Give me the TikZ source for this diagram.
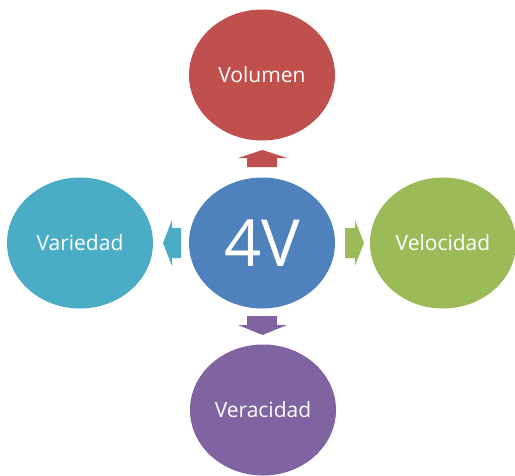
\documentclass[tikz,border=0pt]{standalone}
\usepackage{fontspec}
\setmainfont{Open Sans}
\definecolor{cred}{HTML}{C0504D}
\definecolor{cblue}{HTML}{4F81BD}
\definecolor{cgreen}{HTML}{9BBB59}
\definecolor{cpurple}{HTML}{8064A2}
\definecolor{cteal}{HTML}{4BACC6}
\tikzset{
  blob/.style={ellipse, minimum width=146pt, minimum height=131pt, inner sep=0pt, text=white, font=\fontsize{21}{24}\selectfont}
}
\usetikzlibrary{shapes.geometric}
\begin{document}
\begin{tikzpicture}[x=1pt,y=-1pt]
\useasboundingbox (0,0) rectangle (515,475);
\node[blob, fill=cblue, font=\fontsize{65}{70}\selectfont] (c) at (262,243) {4V};
\node[blob, fill=cred] (t) at (262,75) {Volumen};
\node[blob, fill=cteal] (l) at (80,243) {Variedad};
\node[blob, fill=cgreen] (r) at (443,243) {Velocidad};
\node[blob, fill=cpurple] (b) at (263,410) {Veracidad};
% up arrow
\fill[cred] (262.5,150) -- (287,158) -- (277,158) -- (277,167) -- (247,167) -- (247,158) -- (238,158) -- cycle;
% down arrow
\fill[cpurple] (262.5,335) -- (287,325) -- (277,325) -- (277,316) -- (247,316) -- (247,325) -- (238,325) -- cycle;
% left arrow
\fill[cteal] (163,243) -- (172,220) -- (172,228) -- (181,228) -- (181,258) -- (172,258) -- (172,266) -- cycle;
% right arrow
\fill[cgreen] (364,243) -- (355,220) -- (355,228) -- (345,228) -- (345,258) -- (355,258) -- (355,266) -- cycle;
\end{tikzpicture}
\end{document}
